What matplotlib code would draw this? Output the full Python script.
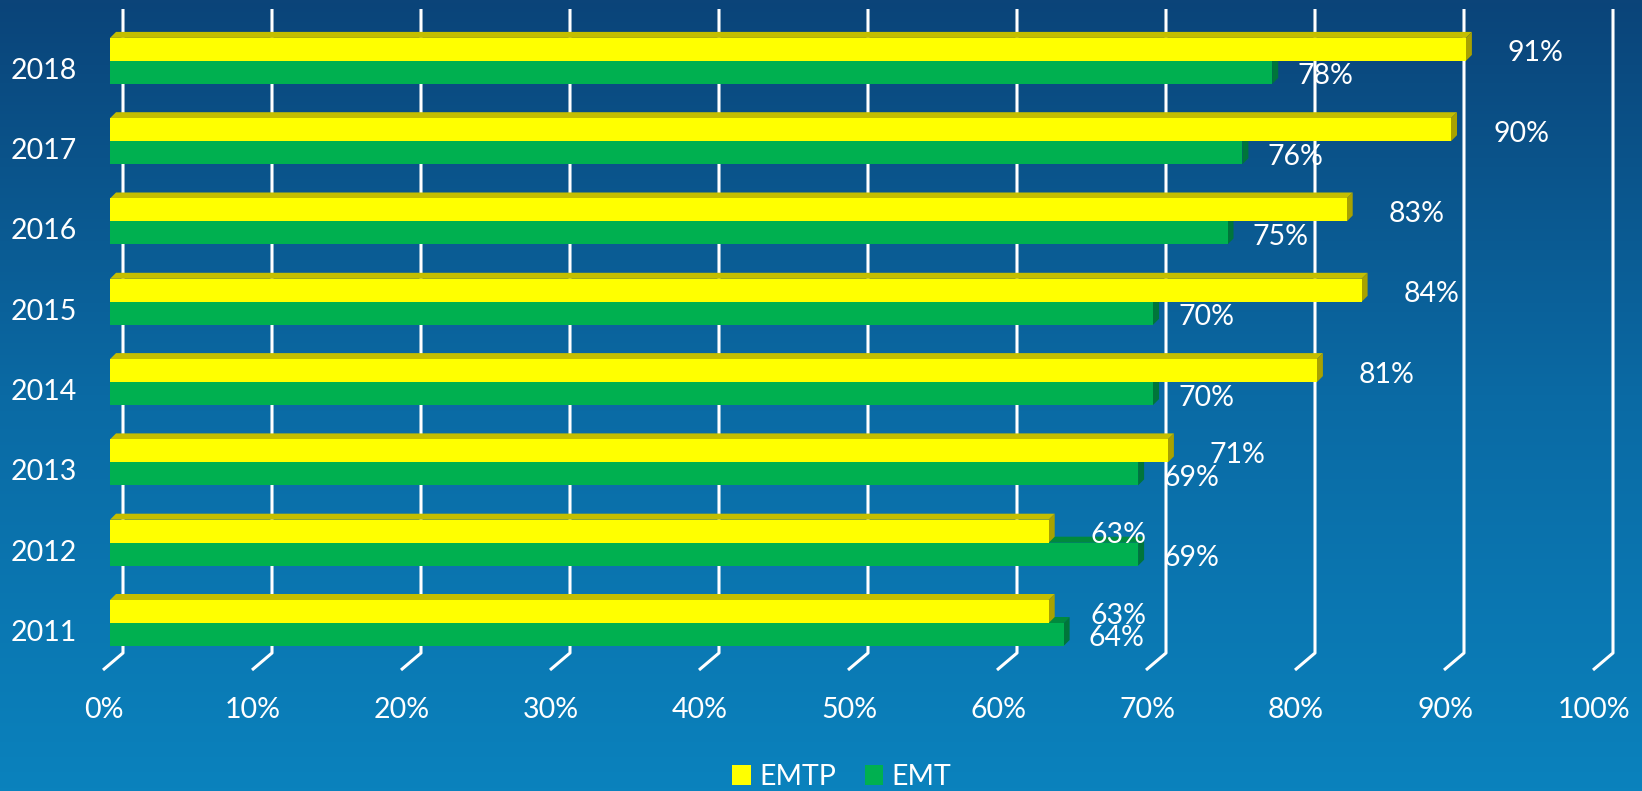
import numpy as np
import matplotlib
matplotlib.use("Agg")
import matplotlib.pyplot as plt
from matplotlib.patches import Polygon, Patch
from matplotlib.colors import LinearSegmentedColormap

plt.rcParams['font.family'] = ['Lato', 'DejaVu Sans']

# ---- data ----
years = ["2011", "2012", "2013", "2014", "2015", "2016", "2017", "2018"]
emtp = [63, 63, 71, 81, 84, 83, 90, 91]
emt = [64, 69, 69, 70, 70, 75, 76, 78]
xticks = [0, 10, 20, 30, 40, 50, 60, 70, 80, 90, 100]
xtick_labels = [f"{t}%" for t in xticks]
series_names = ["EMTP", "EMT"]

# ---- layout ----
W, H, DPI = 1642, 791, 100
PX_X = 14.9      # pixels per percent
PX_Y = 80.3      # pixels per category
X0_PX = 110      # pixel column of 0%
Y0_PX = 623      # pixel row of first category centre
FS = 20.5

fig = plt.figure(figsize=(W / DPI, H / DPI), dpi=DPI)

# background gradient
bg = fig.add_axes([0, 0, 1, 1], zorder=-5)
cmap = LinearSegmentedColormap.from_list("bg", ["#0B4479", "#0A6AA4", "#0A82BD"])
grad = np.linspace(0, 1, 256).reshape(-1, 1)
bg.imshow(grad, aspect="auto", cmap=cmap, extent=[0, 1, 0, 1])
bg.set_axis_off()

ax = fig.add_axes([0, 0, 1, 1])
ax.set_xlim(-X0_PX / PX_X, (W - X0_PX) / PX_X)
ax.set_ylim((Y0_PX - H) / PX_Y, Y0_PX / PX_Y)
ax.set_axis_off()
ax.patch.set_alpha(0)

h = 23 / PX_Y          # bar thickness
dx = 6 / PX_X          # depth offsets
dy = 6 / PX_Y
gx_back = 13 / PX_X
gx_front = -7 / PX_X
g_top = (Y0_PX - 9) / PX_Y
g_bot = (Y0_PX - 653) / PX_Y
g_front = (Y0_PX - 670) / PX_Y

# gridlines on back wall with diagonal floor ticks
for t in xticks:
    ax.plot([t + gx_back, t + gx_back, t + gx_front],
            [g_top, g_bot, g_front], color="white", lw=2.2,
            solid_capstyle="butt", zorder=1)

def box(val, ybot, front, top, side, z):
    ytop = ybot + h
    ax.barh(ybot + h / 2, val, height=h, left=0, color=front,
            edgecolor="none", zorder=z + 0.2)
    ax.add_patch(Polygon([(0, ytop), (val, ytop), (val + dx, ytop + dy),
                          (dx, ytop + dy)], closed=True, facecolor=top,
                         edgecolor="none", zorder=z))
    ax.add_patch(Polygon([(val, ybot), (val, ytop), (val + dx, ytop + dy),
                          (val + dx, ybot + dy)], closed=True, facecolor=side,
                         edgecolor="none", zorder=z + 0.1))

for i, yr in enumerate(years):
    yc = i
    box(emt[i], yc - h, "#00B050", "#008A3E", "#00753A", 3)
    box(emtp[i], yc, "#FFFF00", "#C4BE00", "#A8A200", 4)
    ax.annotate(f"{emtp[i]}%", (emtp[i], yc + h / 2), xytext=(70, -4),
                textcoords="offset pixels", ha="center", va="center",
                color="white", fontsize=FS, zorder=6)
    ax.annotate(f"{emt[i]}%", (emt[i], yc - h / 2), xytext=(53, -4),
                textcoords="offset pixels", ha="center", va="center",
                color="white", fontsize=FS, zorder=6)
    ax.annotate(yr, (0, yc), xytext=(-66, -10), textcoords="offset pixels",
                ha="center", va="center", color="white", fontsize=FS)

ytick = (Y0_PX - 710) / PX_Y
for t, lab in zip(xticks, xtick_labels):
    ax.annotate(lab, (t, ytick), xytext=(-6, 0), textcoords="offset pixels",
                ha="center", va="center", color="white", fontsize=FS)

handles = [Patch(facecolor="#FFFF00", edgecolor="none"),
           Patch(facecolor="#00B050", edgecolor="none")]
fig.legend(handles, series_names, loc="center", bbox_to_anchor=(842 / W, 1 - 777 / H),
           ncol=2, frameon=False, fontsize=FS, labelcolor="white",
           handlelength=0.65, handleheight=0.65, handletextpad=0.3,
           columnspacing=1.0)

fig.savefig("out.png", dpi=DPI)
